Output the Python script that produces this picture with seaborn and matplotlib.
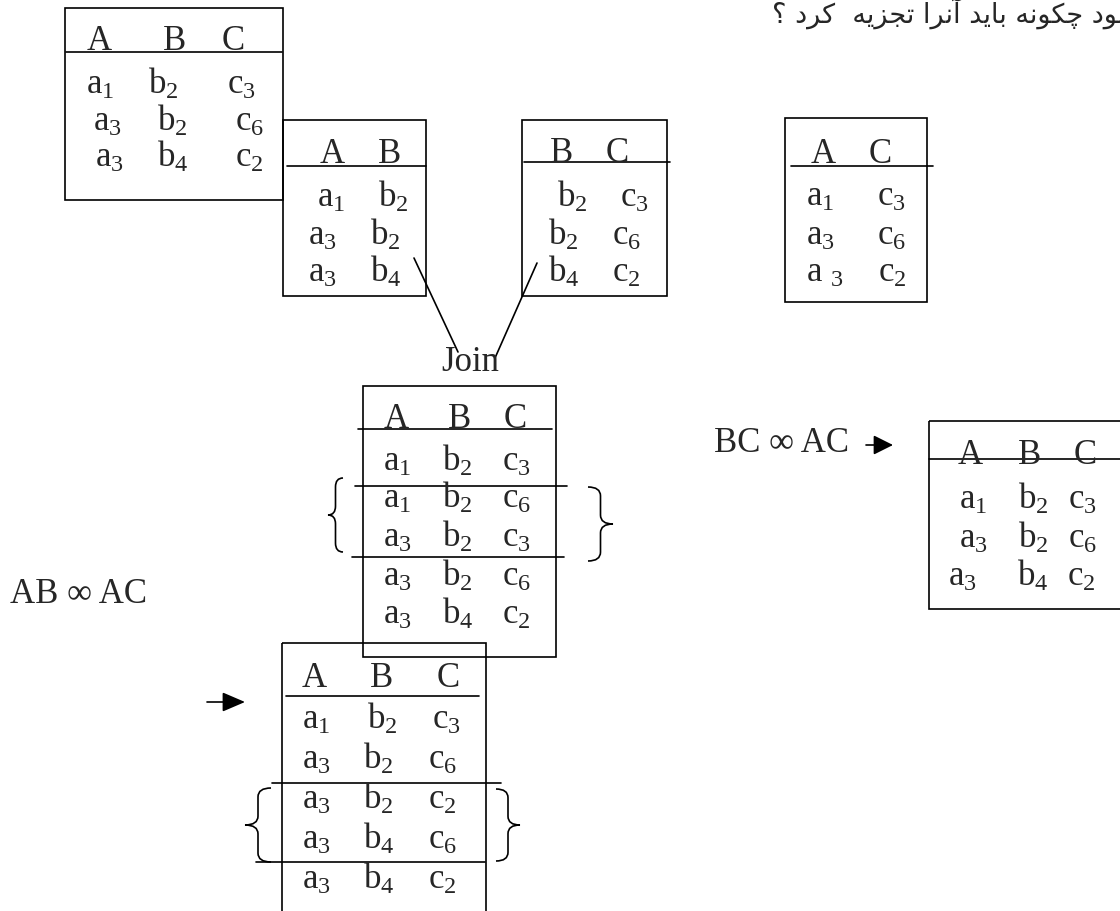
import matplotlib
matplotlib.use("Agg")
from matplotlib import pyplot as plt
from matplotlib.patches import Rectangle, PathPatch
from matplotlib.path import Path
import seaborn as sns

# table contents
r_cols = ["A", "B", "C"]
r_rows = [["a1", "b2", "c3"], ["a3", "b2", "c6"], ["a3", "b4", "c2"]]

ab_cols = ["A", "B"]
ab_rows = [["a1", "b2"], ["a3", "b2"], ["a3", "b4"]]

bc_cols = ["B", "C"]
bc_rows = [["b2", "c3"], ["b2", "c6"], ["b4", "c2"]]

ac_cols = ["A", "C"]
ac_rows = [["a1", "c3"], ["a3", "c6"], ["a 3", "c2"]]

join_cols = ["A", "B", "C"]
join_rows = [["a1", "b2", "c3"], ["a1", "b2", "c6"], ["a3", "b2", "c3"],
             ["a3", "b2", "c6"], ["a3", "b4", "c2"]]

abac_cols = ["A", "B", "C"]
abac_rows = [["a1", "b2", "c3"], ["a3", "b2", "c6"], ["a3", "b2", "c2"],
             ["a3", "b4", "c6"], ["a3", "b4", "c2"]]

bcac_cols = ["A", "B", "C"]
bcac_rows = [["a1", "b2", "c3"], ["a3", "b2", "c6"], ["a3", "b4", "c2"]]

join_label = "Join"
abac_label = "AB \u221e AC"
bcac_label = "BC \u221e AC"
title_words = ["شود", "چکونه", "باید", "آنرا", "تجزیه", " کرد", "؟"]

sns.set_theme(style="white")
plt.rcParams["font.family"] = ["Liberation Serif", "DejaVu Serif"]
plt.rcParams["mathtext.fontset"] = "custom"
plt.rcParams["mathtext.rm"] = "Liberation Serif"
plt.rcParams["mathtext.it"] = "Liberation Serif"
plt.rcParams["mathtext.default"] = "rm"

# presentation forms: isolated, final, initial, medial
FORMS = {
    "ا": ("\uFE8D", "\uFE8E", None, None),
    "آ": ("\uFE81", "\uFE82", None, None),
    "ب": ("\uFE8F", "\uFE90", "\uFE91", "\uFE92"),
    "ت": ("\uFE95", "\uFE96", "\uFE97", "\uFE98"),
    "ج": ("\uFE9D", "\uFE9E", "\uFE9F", "\uFEA0"),
    "چ": ("\uFB7A", "\uFB7B", "\uFB7C", "\uFB7D"),
    "د": ("\uFEA9", "\uFEAA", None, None),
    "ر": ("\uFEAD", "\uFEAE", None, None),
    "ز": ("\uFEAF", "\uFEB0", None, None),
    "ش": ("\uFEB5", "\uFEB6", "\uFEB7", "\uFEB8"),
    "ک": ("\uFB8E", "\uFB8F", "\uFB90", "\uFB91"),
    "ن": ("\uFEE5", "\uFEE6", "\uFEE7", "\uFEE8"),
    "و": ("\uFEED", "\uFEEE", None, None),
    "ه": ("\uFEE9", "\uFEEA", "\uFEEB", "\uFEEC"),
    "ی": ("\uFBFC", "\uFBFD", "\uFBFE", "\uFBFF"),
}


def shape(text):
    out = []
    for i, ch in enumerate(text):
        if ch not in FORMS:
            out.append(ch)
            continue
        prev = text[i - 1] if i > 0 else ""
        nxt = text[i + 1] if i + 1 < len(text) else ""
        jp = prev in FORMS and FORMS[prev][2] is not None
        jn = nxt in FORMS and FORMS[ch][2] is not None
        iso, fin, ini, med = FORMS[ch]
        out.append(med if jp and jn else fin if jp else ini if jn else iso)
    return "".join(out)[::-1]


def cell(s):
    if " " in s:
        base, sub = s.split(" ")
        return r"$%s\ _{%s}$" % (base, sub)
    return r"$%s_{%s}$" % (s[0], s[1:])


fig = plt.figure(figsize=(11.2, 9.11), dpi=100)
ax = fig.add_axes([0, 0, 1, 1])
ax.set_xlim(0, 1120)
ax.set_ylim(911, 0)
ax.axis("off")

FS = 25
LW = 1.2


def table(cols, rows, box, rule, head_y, head_x, rows_y, rows_x, clip=None):
    x0, y0, x1, y1 = box
    ax.add_patch(Rectangle((x0, y0), x1 - x0, y1 - y0, fill=False,
                           ec="black", lw=LW))
    ax.plot([rule[0], rule[1]], [rule[2], rule[2]], color="black", lw=LW)
    for c, x in zip(cols, head_x):
        ax.text(x, head_y, c, fontsize=FS, ha="center", va="baseline")
    for r, (row, y) in enumerate(zip(rows, rows_y)):
        xs = rows_x[r] if len(rows_x) > r else rows_x[-1]
        for v, x in zip(row, xs):
            t = ax.text(x, y, cell(v), fontsize=FS, ha="left", va="baseline")
            if clip is not None:
                t.set_clip_path(Rectangle((0, 0), 1120, clip,
                                          transform=ax.transData))


def brace(x_end, x_tip, y0, y1):
    xm = (x_end + x_tip) / 2
    ym = (y0 + y1) / 2
    q = (y1 - y0) * 0.12
    verts = [(x_end, y0), (xm, y0), (xm, y0 + q),
             (xm, ym - q), (xm, ym), (x_tip, ym),
             (xm, ym), (xm, ym + q),
             (xm, y1 - q), (xm, y1), (x_end, y1)]
    codes = [Path.MOVETO, Path.CURVE3, Path.CURVE3,
             Path.LINETO, Path.CURVE3, Path.CURVE3,
             Path.CURVE3, Path.CURVE3,
             Path.LINETO, Path.CURVE3, Path.CURVE3]
    ax.add_patch(PathPatch(Path(verts, codes), fill=False, ec="black", lw=LW))


def arrow(x0, x1, y, hl, hw):
    ax.annotate("", xy=(x1, y), xytext=(x0, y),
                arrowprops=dict(arrowstyle=f"-|>,head_length={hl},head_width={hw}",
                                color="black", lw=LW, shrinkA=0, shrinkB=0,
                                mutation_scale=20))


# original relation
table(r_cols, r_rows, (65, 8, 283, 200), (66, 282, 52), 50, [99, 175, 233],
      [94, 131, 167], [[86, 148, 227], [93, 157, 235], [95, 157, 235]])

# projections
table(ab_cols, ab_rows, (283, 120, 426, 296), (287, 426, 166), 163, [332, 390],
      [207, 245, 282], [[317, 378], [308, 370], [308, 370]], clip=285)
table(bc_cols, bc_rows, (522, 120, 667, 296), (524, 670, 162), 162, [562, 617],
      [207, 245, 282], [[557, 620], [548, 612], [548, 612]], clip=285)
table(ac_cols, ac_rows, (785, 118, 927, 302), (791, 933, 166), 163, [823, 880],
      [206, 245, 282], [[806, 877], [806, 877], [806, 878]])

# join lines
ax.plot([414, 458], [258, 352], color="black", lw=LW)
ax.plot([537, 495], [263, 358], color="black", lw=LW)
ax.text(470, 371, join_label, fontsize=FS, ha="center", va="baseline")

# join result
table(join_cols, join_rows, (363, 386, 556, 657), (358, 552, 429), 428,
      [396, 460, 515], [471, 508, 547, 586, 624], [[383, 442, 502]])
ax.plot([355, 567], [486, 486], color="black", lw=LW)
ax.plot([352, 564], [557, 557], color="black", lw=LW)
brace(343, 328, 478, 552)
brace(588, 613, 487, 561)

# AB join AC
ax.text(10, 603, abac_label, fontsize=FS, ha="left", va="baseline")
arrow(207, 245, 702, 0.7, 0.3)
table(abac_cols, abac_rows, (282, 643, 486, 930), (286, 479, 696), 687,
      [314, 382, 448], [729, 769, 809, 849, 889],
      [[302, 367, 432], [302, 363, 428]])
ax.plot([272, 501], [783, 783], color="black", lw=LW)
ax.plot([256, 485], [862, 862], color="black", lw=LW)
brace(271, 245, 788, 862)
brace(496, 520, 789, 861)

# BC join AC
ax.text(714, 452, bcac_label, fontsize=FS, ha="left", va="baseline")
arrow(866, 893, 445, 0.6, 0.3)
table(bcac_cols, bcac_rows, (929, 421, 1135, 609), (929, 1120, 459), 464,
      [970, 1030, 1085], [509, 548, 586],
      [[959, 1018, 1068], [959, 1018, 1068], [948, 1017, 1067]])

# question text (right-to-left, cut at the page edge)
ax.text(772, 24, shape(" ".join(title_words)), fontsize=19.5, ha="left",
        va="baseline", family=["DejaVu Sans"])

fig.savefig("out.png", dpi=100)
